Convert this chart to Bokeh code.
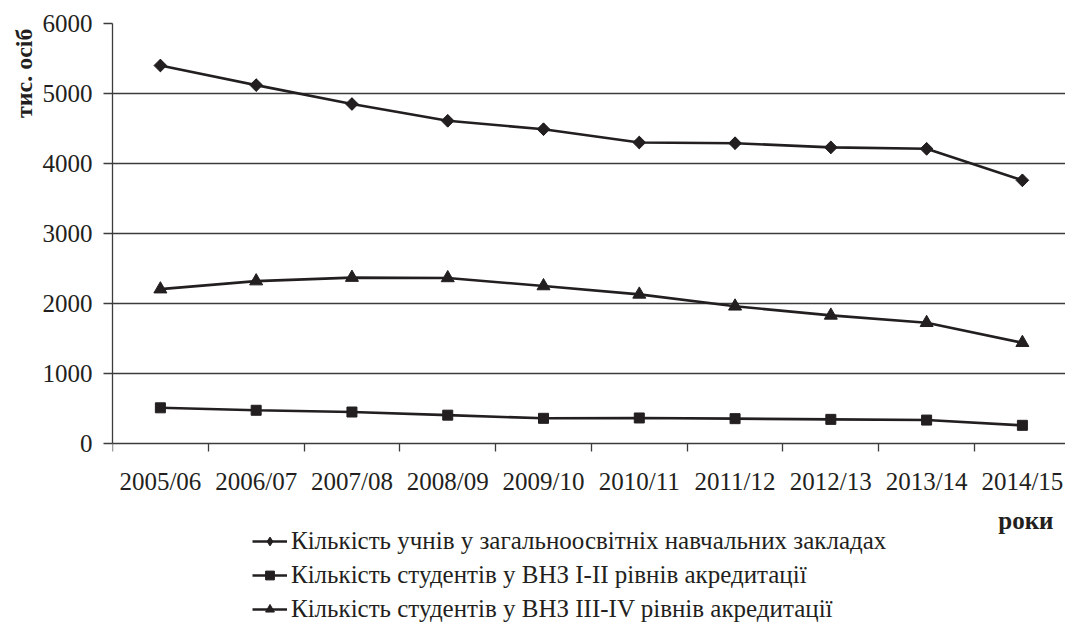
import math
from bokeh.plotting import figure
from bokeh.models import (Range1d, FixedTicker, Legend, LegendItem, Title, Label)
from bokeh.embed import file_html
from bokeh.resources import INLINE

years = ["2005/06", "2006/07", "2007/08", "2008/09", "2009/10",
         "2010/11", "2011/12", "2012/13", "2013/14", "2014/15"]
schools = [5400, 5120, 4850, 4610, 4490, 4300, 4290, 4230, 4210, 3760]
vnz12 = [510, 475, 450, 405, 360, 365, 355, 345, 335, 260]
vnz34 = [2205, 2320, 2370, 2365, 2250, 2130, 1960, 1830, 1725, 1440]
names = ["Кількість учнів у загальноосвітніх навчальних закладах",
         "Кількість студентів у ВНЗ I-II рівнів акредитації",
         "Кількість студентів у ВНЗ III-IV рівнів акредитації"]
y_ticks = [0, 1000, 2000, 3000, 4000, 5000, 6000]

FONT = "Liberation Serif"
INK = "#231f20"
GRID = "#3c3c3c"

xs = list(range(len(years)))

# The frame reaches the bottom of the canvas; the x axis sits at y = 0 and
# the space under it holds the legend and the x caption.
p = figure(width=1065, height=623, output_backend="svg", toolbar_location=None,
           x_range=Range1d(-0.5, 9.45), y_range=Range1d(-2571, 6000),
           min_border_left=112, min_border_right=0, min_border_top=23,
           min_border_bottom=0)
p.outline_line_color = None
p.background_fill_color = "white"
p.border_fill_color = "white"

xa = p.xaxis[0]
xa.fixed_location = 0
xa.ticker = FixedTicker(ticks=xs, minor_ticks=[i - 0.5 for i in range(len(years) + 1)])
xa.major_label_overrides = {i: y for i, y in enumerate(years)}
xa.major_tick_line_color = None
xa.major_tick_out = 8
xa.major_tick_in = 0
xa.minor_tick_out = 8
xa.minor_tick_in = 0
xa.minor_tick_line_color = GRID
xa.minor_tick_line_width = 1.3
xa.axis_line_color = GRID
xa.axis_line_width = 1.3
xa.major_label_text_font = FONT
xa.major_label_text_font_size = "25px"
xa.major_label_text_color = INK
xa.major_label_standoff = 16

ya = p.yaxis[0]
ya.bounds = (0, 6000)
ya.ticker = FixedTicker(ticks=y_ticks)
ya.minor_tick_line_color = None
ya.major_tick_out = 9
ya.major_tick_in = 0
ya.major_tick_line_color = GRID
ya.major_tick_line_width = 1.3
ya.axis_line_color = GRID
ya.axis_line_width = 1.3
ya.major_label_text_font = FONT
ya.major_label_text_font_size = "25px"
ya.major_label_text_color = INK
ya.major_label_standoff = 11

p.xgrid.grid_line_color = None
p.ygrid.ticker = FixedTicker(ticks=y_ticks[1:])
p.ygrid.grid_line_color = GRID
p.ygrid.grid_line_width = 1.3

items = []

# series 1: diamonds (a diamond glyph for the key, a rotated square on top
# to give the wider diamond of the original)
l1 = p.line(xs, schools, line_color=INK, line_width=2.6)
d1 = p.scatter(xs, schools, marker="diamond", size=12,
               fill_color=INK, line_color=INK)
p.scatter(xs, schools, marker="square", size=9, angle=math.pi / 4,
          fill_color=INK, line_color=INK)
items.append(LegendItem(label=names[0], renderers=[l1, d1]))

# series 2: squares
l2 = p.line(xs, vnz12, line_color=INK, line_width=2.6)
s2 = p.scatter(xs, vnz12, marker="square", size=10,
               fill_color=INK, line_color=INK)
items.append(LegendItem(label=names[1], renderers=[l2, s2]))

# series 3: triangles
l3 = p.line(xs, vnz34, line_color=INK, line_width=2.6)
s3 = p.scatter(xs, vnz34, marker="triangle", size=13,
               fill_color=INK, line_color=INK)
items.append(LegendItem(label=names[2], renderers=[l3, s3]))

ytitle = Title(text="тис. осіб", align="right", offset=5, standoff=6,
               text_font=FONT, text_font_size="24px", text_font_style="bold",
               text_color=INK)
p.add_layout(ytitle, "left")

p.add_layout(Label(x=941, y=103, x_units="screen", y_units="screen",
                   text="роки", text_align="right", text_baseline="middle",
                   text_font=FONT, text_font_size="25px",
                   text_font_style="bold", text_color=INK))

legend = Legend(items=items, location=(140, 0), orientation="vertical",
                border_line_color=None, background_fill_alpha=0,
                label_text_font=FONT, label_text_font_size="25px",
                label_text_color=INK, glyph_width=35, glyph_height=22,
                label_height=28, label_standoff=4, spacing=6, padding=0,
                margin=0)
p.add_layout(legend, "center")

open("out.html", "w").write(file_html(p, INLINE))
